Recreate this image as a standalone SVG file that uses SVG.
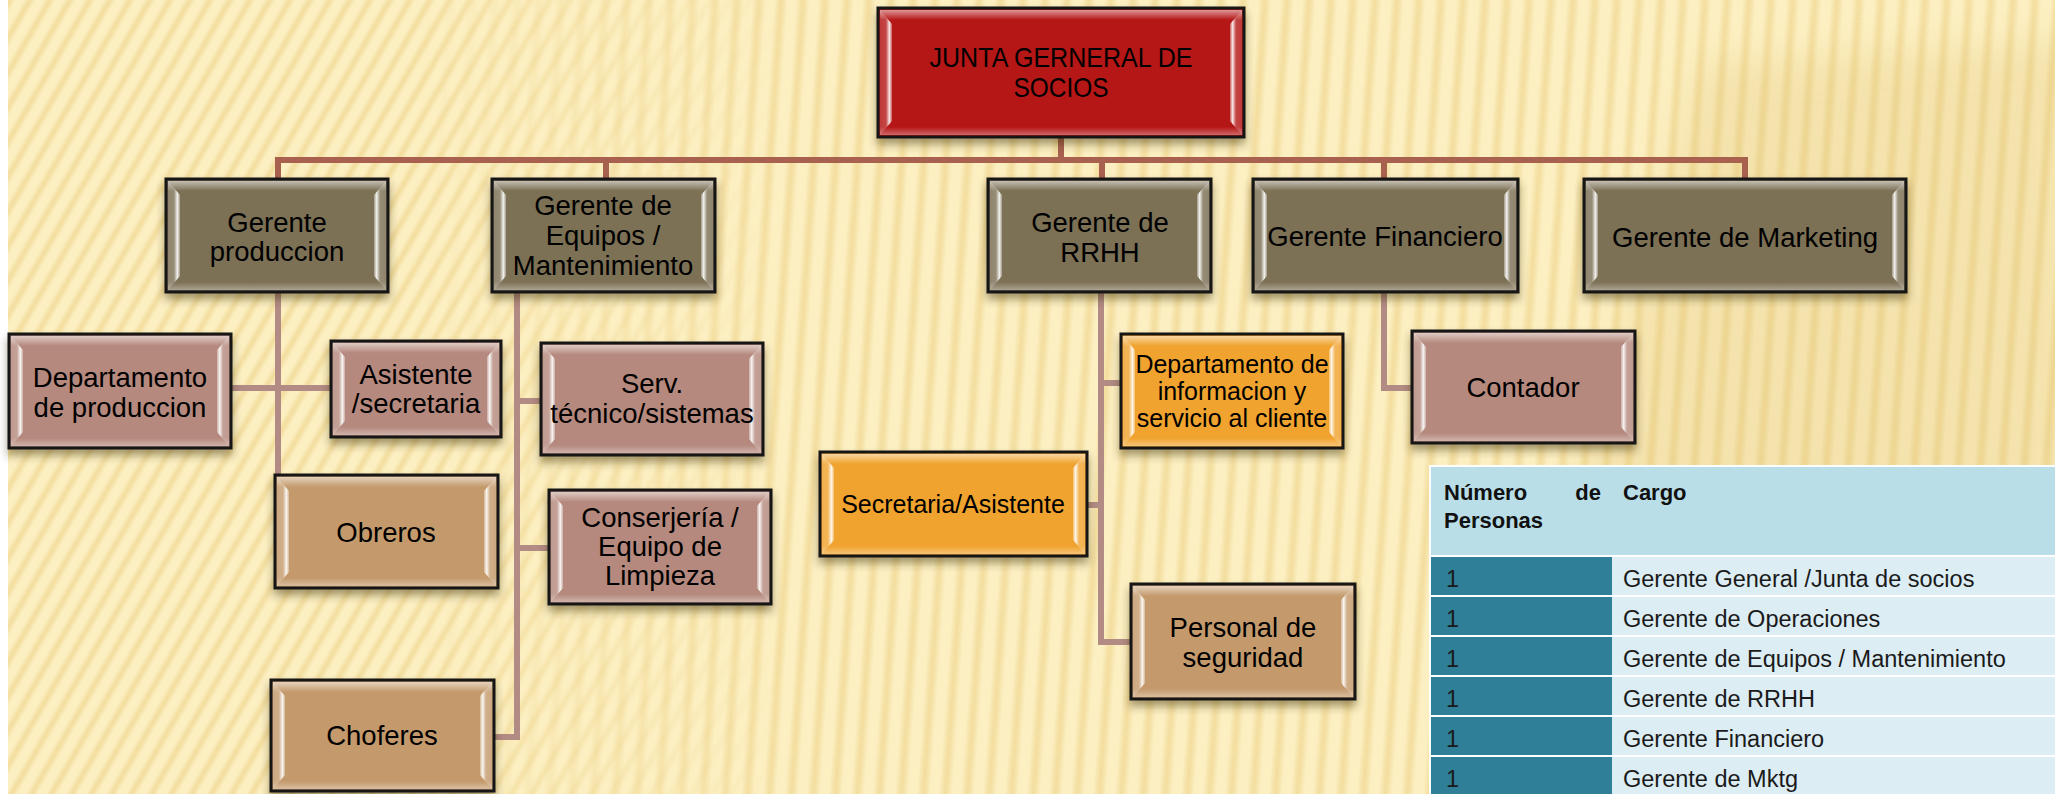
<svg xmlns="http://www.w3.org/2000/svg" width="2055" height="794" viewBox="0 0 2055 794">
<defs>
<style>
.bx{stroke:#141414;stroke-width:3;filter:url(#sh)}
.l2{fill:#7b6f55}.red{fill:#b51214}.mv{fill:#b5897d}.tn{fill:#c49a6c}.or{fill:#f0a32e}
.tp{fill:url(#gTop)}.bt{fill:url(#gBot)}.bl{fill:url(#gL)}.br{fill:url(#gR)}
.t{font-family:"Liberation Sans",Arial,sans-serif;font-size:27.5px;fill:#000;text-anchor:middle}
.t25{font-size:25px}
.tj{font-size:27.5px}
.c1{fill:none;stroke:#a8604f;stroke-width:6}
.c2{fill:none;stroke:#b38b85;stroke-width:6}
.th{font-family:"Liberation Sans",Arial,sans-serif;font-size:22px;font-weight:bold;fill:#111}
.td{font-family:"Liberation Sans",Arial,sans-serif;font-size:23.5px;fill:#1a1a1a}
.tl{fill:#2e7f97}.tr{fill:#dcedf3}
</style>
<filter id="sh" x="-10%" y="-10%" width="120%" height="130%">
<feDropShadow dx="0" dy="6" stdDeviation="4" flood-color="#3a2a10" flood-opacity="0.45"/>
</filter>
<filter id="blur" x="-20%" y="-20%" width="140%" height="140%"><feGaussianBlur stdDeviation="18"/></filter>
<linearGradient id="gTop" x1="0" y1="0" x2="0" y2="1"><stop offset="0" stop-color="#fff" stop-opacity="0.55"/><stop offset="1" stop-color="#fff" stop-opacity="0"/></linearGradient>
<linearGradient id="gBot" x1="0" y1="0" x2="0" y2="1"><stop offset="0" stop-color="#fff" stop-opacity="0"/><stop offset="1" stop-color="#fff" stop-opacity="0.35"/></linearGradient>
<linearGradient id="gL" x1="0" y1="0" x2="1" y2="0"><stop offset="0" stop-color="#fff" stop-opacity="0.15"/><stop offset="0.5" stop-color="#fff" stop-opacity="0.2"/><stop offset="0.78" stop-color="#fff" stop-opacity="0.9"/><stop offset="1" stop-color="#fff" stop-opacity="0.3"/></linearGradient>
<linearGradient id="gR" x1="1" y1="0" x2="0" y2="0"><stop offset="0" stop-color="#fff" stop-opacity="0.15"/><stop offset="0.5" stop-color="#fff" stop-opacity="0.2"/><stop offset="0.78" stop-color="#fff" stop-opacity="0.9"/><stop offset="1" stop-color="#fff" stop-opacity="0.3"/></linearGradient>
<linearGradient id="stripe" x1="0" y1="0" x2="1" y2="0"><stop offset="0" stop-color="#ecd084" stop-opacity="0"/><stop offset="0.2" stop-color="#ecd084" stop-opacity="0"/><stop offset="0.5" stop-color="#ecd084" stop-opacity="0.6"/><stop offset="0.8" stop-color="#ecd084" stop-opacity="0"/><stop offset="1" stop-color="#ecd084" stop-opacity="0"/></linearGradient>
<pattern id="pd" width="20" height="40" patternUnits="userSpaceOnUse" patternTransform="skewX(-30)"><rect width="20" height="40" fill="url(#stripe)"/></pattern>
<pattern id="pv" width="22" height="40" patternUnits="userSpaceOnUse" patternTransform="skewX(-4)"><rect width="22" height="40" fill="url(#stripe)"/></pattern>
<linearGradient id="mgL" x1="0" y1="0" x2="1" y2="0"><stop offset="0" stop-color="#fff"/><stop offset="0.2" stop-color="#fff"/><stop offset="0.38" stop-color="#000"/></linearGradient>
<linearGradient id="mgR" x1="0" y1="0" x2="1" y2="0"><stop offset="0" stop-color="#000"/><stop offset="0.2" stop-color="#000"/><stop offset="0.38" stop-color="#fff"/></linearGradient>
<mask id="mL"><rect width="2055" height="794" fill="url(#mgL)"/></mask>
<mask id="mR"><rect width="2055" height="794" fill="url(#mgR)"/></mask>
</defs>

<g id="background">
<rect width="2055" height="794" fill="#fcefc1"/>
<rect width="2055" height="794" fill="url(#pd)" mask="url(#mL)"/>
<rect width="2055" height="794" fill="url(#pv)" mask="url(#mR)"/>
<polygon points="1700,62 2080,42 2080,820 1480,820" fill="#d8b65e" opacity="0.2" filter="url(#blur)"/>
<rect x="0" y="0" width="8" height="794" fill="#ffffff"/>
</g>

<g id="connectors">
<path class="c1" d="M1061 137 V160 M278 179 V160 H1745 V179 M606 160 V179 M1102 160 V179 M1384 160 V179"/>
<path class="c2" d="M278 292 V475 M231 388 H331 M517 292 V740 M517 401 H541 M517 548 H549 M494 737 H517 M1101 292 V645 M1101 383 H1121 M1087 505 H1101 M1101 642 H1131 M1384 292 V388 H1412"/>
</g>

<g id="n-junta">
<rect class="bx red" x="878" y="8" width="366" height="129"/>
<rect class="tp" x="880" y="10" width="362" height="10"/><rect class="bt" x="880" y="127" width="362" height="8"/>
<polygon class="bl" points="880,10 892,24 892,121 880,135"/><polygon class="br" points="1242,10 1230,24 1230,121 1242,135"/>
<text class="t tj" x="1061" y="67" textLength="263" lengthAdjust="spacingAndGlyphs">JUNTA GERNERAL DE</text><text class="t tj" x="1061" y="97" textLength="95" lengthAdjust="spacingAndGlyphs">SOCIOS</text>
</g>

<g id="n-gprod">
<rect class="bx l2" x="166" y="179" width="222" height="113"/>
<rect class="tp" x="168" y="181" width="218" height="10"/><rect class="bt" x="168" y="282" width="218" height="8"/>
<polygon class="bl" points="168,181 180,195 180,276 168,290"/><polygon class="br" points="386,181 374,195 374,276 386,290"/>
<text class="t" x="277" y="232">Gerente</text><text class="t" x="277" y="261">produccion</text>
</g>

<g id="n-gequip">
<rect class="bx l2" x="492" y="179" width="223" height="113"/>
<rect class="tp" x="494" y="181" width="219" height="10"/><rect class="bt" x="494" y="282" width="219" height="8"/>
<polygon class="bl" points="494,181 506,195 506,276 494,290"/><polygon class="br" points="713,181 701,195 701,276 713,290"/>
<text class="t" x="603" y="215">Gerente de</text><text class="t" x="603" y="245">Equipos /</text><text class="t" x="603" y="275">Mantenimiento</text>
</g>

<g id="n-grrhh">
<rect class="bx l2" x="988" y="179" width="223" height="113"/>
<rect class="tp" x="990" y="181" width="219" height="10"/><rect class="bt" x="990" y="282" width="219" height="8"/>
<polygon class="bl" points="990,181 1002,195 1002,276 990,290"/><polygon class="br" points="1209,181 1197,195 1197,276 1209,290"/>
<text class="t" x="1100" y="232">Gerente de</text><text class="t" x="1100" y="262">RRHH</text>
</g>

<g id="n-gfin">
<rect class="bx l2" x="1253" y="179" width="265" height="113"/>
<rect class="tp" x="1255" y="181" width="261" height="10"/><rect class="bt" x="1255" y="282" width="261" height="8"/>
<polygon class="bl" points="1255,181 1267,195 1267,276 1255,290"/><polygon class="br" points="1516,181 1504,195 1504,276 1516,290"/>
<text class="t" x="1385" y="246">Gerente Financiero</text>
</g>

<g id="n-gmkt">
<rect class="bx l2" x="1584" y="179" width="322" height="113"/>
<rect class="tp" x="1586" y="181" width="318" height="10"/><rect class="bt" x="1586" y="282" width="318" height="8"/>
<polygon class="bl" points="1586,181 1598,195 1598,276 1586,290"/><polygon class="br" points="1904,181 1892,195 1892,276 1904,290"/>
<text class="t" x="1745" y="247">Gerente de Marketing</text>
</g>

<g id="n-dprod">
<rect class="bx mv" x="9" y="334" width="222" height="114"/>
<rect class="tp" x="11" y="336" width="218" height="10"/><rect class="bt" x="11" y="438" width="218" height="8"/>
<polygon class="bl" points="11,336 23,350 23,432 11,446"/><polygon class="br" points="229,336 217,350 217,432 229,446"/>
<text class="t" x="120" y="387">Departamento</text><text class="t" x="120" y="417">de produccion</text>
</g>

<g id="n-asist">
<rect class="bx mv" x="331" y="341" width="170" height="96"/>
<rect class="tp" x="333" y="343" width="166" height="10"/><rect class="bt" x="333" y="427" width="166" height="8"/>
<polygon class="bl" points="333,343 345,357 345,421 333,435"/><polygon class="br" points="499,343 487,357 487,421 499,435"/>
<text class="t" x="416" y="384">Asistente</text><text class="t" x="416" y="413">/secretaria</text>
</g>

<g id="n-serv">
<rect class="bx mv" x="541" y="343" width="222" height="112"/>
<rect class="tp" x="543" y="345" width="218" height="10"/><rect class="bt" x="543" y="445" width="218" height="8"/>
<polygon class="bl" points="543,345 555,359 555,439 543,453"/><polygon class="br" points="761,345 749,359 749,439 761,453"/>
<text class="t" x="652" y="393">Serv.</text><text class="t" x="652" y="423">técnico/sistemas</text>
</g>

<g id="n-obreros">
<rect class="bx tn" x="275" y="475" width="223" height="113"/>
<rect class="tp" x="277" y="477" width="219" height="10"/><rect class="bt" x="277" y="578" width="219" height="8"/>
<polygon class="bl" points="277,477 289,491 289,572 277,586"/><polygon class="br" points="496,477 484,491 484,572 496,586"/>
<text class="t" x="386" y="542">Obreros</text>
</g>

<g id="n-conserj">
<rect class="bx mv" x="549" y="490" width="222" height="114"/>
<rect class="tp" x="551" y="492" width="218" height="10"/><rect class="bt" x="551" y="594" width="218" height="8"/>
<polygon class="bl" points="551,492 563,506 563,588 551,602"/><polygon class="br" points="769,492 757,506 757,588 769,602"/>
<text class="t" x="660" y="527">Conserjería /</text><text class="t" x="660" y="556">Equipo de</text><text class="t" x="660" y="585">Limpieza</text>
</g>

<g id="n-choferes">
<rect class="bx tn" x="271" y="680" width="223" height="111"/>
<rect class="tp" x="273" y="682" width="219" height="10"/><rect class="bt" x="273" y="781" width="219" height="8"/>
<polygon class="bl" points="273,682 285,696 285,775 273,789"/><polygon class="br" points="492,682 480,696 480,775 492,789"/>
<text class="t" x="382" y="745">Choferes</text>
</g>

<g id="n-dinfo">
<rect class="bx or" x="1121" y="334" width="222" height="114"/>
<rect class="tp" x="1123" y="336" width="218" height="10"/><rect class="bt" x="1123" y="438" width="218" height="8"/>
<polygon class="bl" points="1123,336 1135,350 1135,432 1123,446"/><polygon class="br" points="1341,336 1329,350 1329,432 1341,446"/>
<text class="t t25" x="1232" y="373">Departamento de</text><text class="t t25" x="1232" y="400">informacion y</text><text class="t t25" x="1232" y="427">servicio al cliente</text>
</g>

<g id="n-secre">
<rect class="bx or" x="820" y="452" width="267" height="104"/>
<rect class="tp" x="822" y="454" width="263" height="10"/><rect class="bt" x="822" y="546" width="263" height="8"/>
<polygon class="bl" points="822,454 834,468 834,540 822,554"/><polygon class="br" points="1085,454 1073,468 1073,540 1085,554"/>
<text class="t t25" x="953" y="513">Secretaria/Asistente</text>
</g>

<g id="n-personal">
<rect class="bx tn" x="1131" y="584" width="224" height="115"/>
<rect class="tp" x="1133" y="586" width="220" height="10"/><rect class="bt" x="1133" y="689" width="220" height="8"/>
<polygon class="bl" points="1133,586 1145,600 1145,683 1133,697"/><polygon class="br" points="1353,586 1341,600 1341,683 1353,697"/>
<text class="t" x="1243" y="637">Personal de</text><text class="t" x="1243" y="667">seguridad</text>
</g>

<g id="n-contador">
<rect class="bx mv" x="1412" y="331" width="223" height="112"/>
<rect class="tp" x="1414" y="333" width="219" height="10"/><rect class="bt" x="1414" y="433" width="219" height="8"/>
<polygon class="bl" points="1414,333 1426,347 1426,427 1414,441"/><polygon class="br" points="1633,333 1621,347 1621,427 1633,441"/>
<text class="t" x="1523" y="397">Contador</text>
</g>

<g id="table">
<rect x="1429" y="465" width="626" height="329" fill="#ffffff"/>
<rect x="1431" y="467" width="624" height="88" fill="#b9dee8"/>
<text class="th" x="1444" y="500">Número</text><text class="th" x="1601" y="500" text-anchor="end">de</text>
<text class="th" x="1444" y="528">Personas</text>
<text class="th" x="1623" y="500">Cargo</text>
<rect class="tl" x="1431" y="557" width="181" height="38"/><rect class="tr" x="1612" y="557" width="443" height="38"/>
<rect class="tl" x="1431" y="597" width="181" height="38"/><rect class="tr" x="1612" y="597" width="443" height="38"/>
<rect class="tl" x="1431" y="637" width="181" height="38"/><rect class="tr" x="1612" y="637" width="443" height="38"/>
<rect class="tl" x="1431" y="677" width="181" height="38"/><rect class="tr" x="1612" y="677" width="443" height="38"/>
<rect class="tl" x="1431" y="717" width="181" height="38"/><rect class="tr" x="1612" y="717" width="443" height="38"/>
<rect class="tl" x="1431" y="757" width="181" height="37"/><rect class="tr" x="1612" y="757" width="443" height="37"/>
<text class="td" x="1446" y="587">1</text><text class="td" x="1623" y="587">Gerente General  /Junta de socios</text>
<text class="td" x="1446" y="627">1</text><text class="td" x="1623" y="627">Gerente de Operaciones</text>
<text class="td" x="1446" y="667">1</text><text class="td" x="1623" y="667">Gerente de Equipos / Mantenimiento</text>
<text class="td" x="1446" y="707">1</text><text class="td" x="1623" y="707">Gerente de RRHH</text>
<text class="td" x="1446" y="747">1</text><text class="td" x="1623" y="747">Gerente Financiero</text>
<text class="td" x="1446" y="787">1</text><text class="td" x="1623" y="787">Gerente de Mktg</text>
</g>
</svg>
